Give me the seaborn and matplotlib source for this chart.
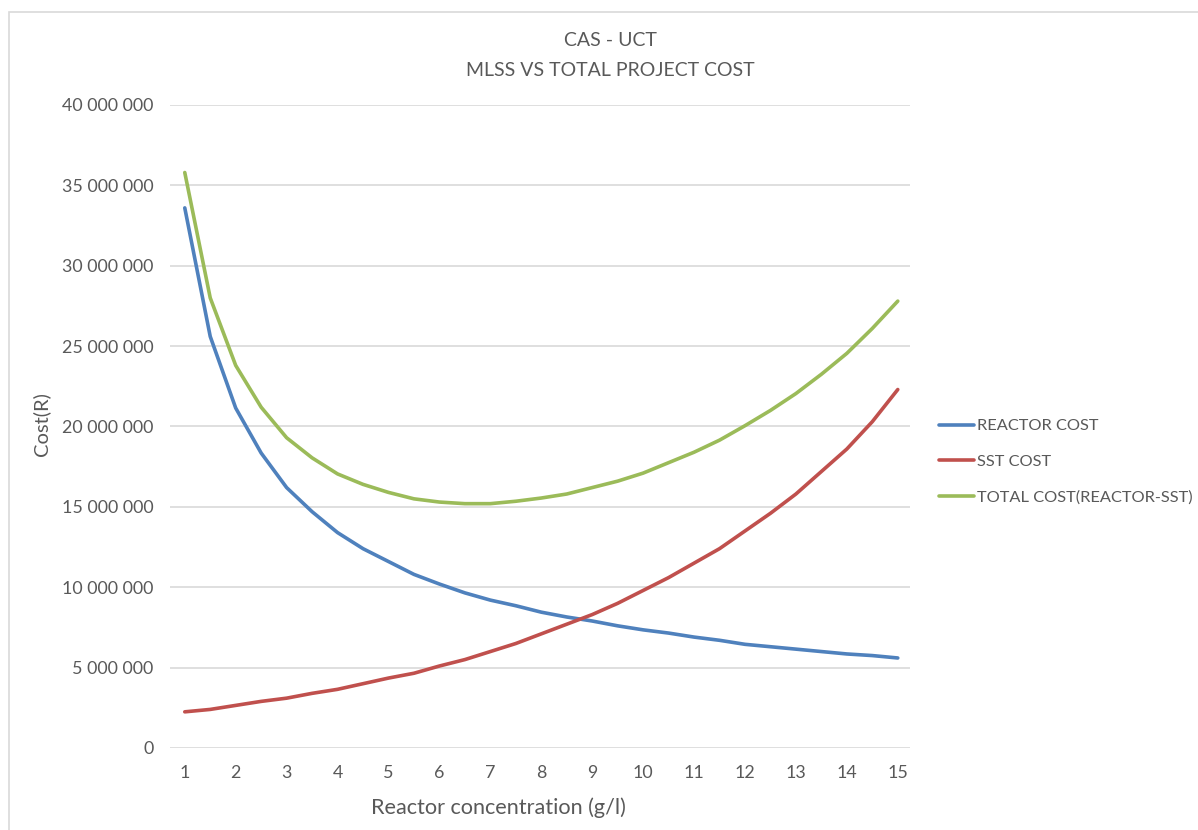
import numpy as np
import pandas as pd
import matplotlib
matplotlib.use("Agg")
import matplotlib.pyplot as plt
import seaborn as sns
from matplotlib.ticker import FuncFormatter
from matplotlib.patches import Rectangle

concentration = [1, 1.5, 2, 2.5, 3, 3.5, 4, 4.5, 5, 5.5, 6, 6.5, 7, 7.5, 8, 8.5,
                 9, 9.5, 10, 10.5, 11, 11.5, 12, 12.5, 13, 13.5, 14, 14.5, 15]
reactor_cost = [33.6, 25.6, 21.15, 18.35, 16.2, 14.7, 13.4, 12.4, 11.6, 10.8, 10.2, 9.65,
                9.2, 8.85, 8.45, 8.15, 7.9, 7.6, 7.35, 7.15, 6.9, 6.7, 6.45, 6.3, 6.15,
                6.0, 5.85, 5.75, 5.6]
sst_cost = [2.25, 2.4, 2.65, 2.9, 3.1, 3.4, 3.65, 4.0, 4.35, 4.65, 5.1, 5.5, 6.0, 6.5,
            7.1, 7.7, 8.3, 9.0, 9.8, 10.6, 11.5, 12.4, 13.5, 14.6, 15.8, 17.2, 18.6,
            20.3, 22.3]
total_cost = [35.8, 28.0, 23.8, 21.2, 19.3, 18.05, 17.05, 16.4, 15.9, 15.5, 15.3, 15.2,
              15.2, 15.35, 15.55, 15.8, 16.2, 16.6, 17.1, 17.75, 18.4, 19.15, 20.05,
              21.0, 22.05, 23.25, 24.55, 26.1, 27.8]
series_names = ["REACTOR COST", "SST COST", "TOTAL COST(REACTOR-SST)"]
y_ticks = [0, 5e6, 10e6, 15e6, 20e6, 25e6, 30e6, 35e6, 40e6]
x_ticks = list(range(1, 16))

rows = []
for name, vals in zip(series_names, [reactor_cost, sst_cost, total_cost]):
    for x, v in zip(concentration, vals):
        rows.append({"x": x, "cost": v * 1e6, "series": name})
df = pd.DataFrame(rows)

sns.set_theme(style="white")
plt.rcParams["font.family"] = ["Lato", "DejaVu Sans"]
text_color = "#595959"

fig = plt.figure(figsize=(11.98, 8.3), dpi=100)
W, H = 1198, 830
fig.patches.append(Rectangle((8.5 / W, -0.1), 1.2, 1 - 12 / H + 0.1,
                             transform=fig.transFigure, fill=False,
                             edgecolor="#D9D9D9", linewidth=1.2, zorder=0))
ax = fig.add_axes([170 / W, 1 - 748 / H, (910 - 170) / W, (748 - 105) / H])

palette = {"REACTOR COST": "#4F81BD", "SST COST": "#C0504D",
           "TOTAL COST(REACTOR-SST)": "#9BBB59"}
sns.lineplot(data=df, x="x", y="cost", hue="series", palette=palette, ax=ax,
             linewidth=2.6, legend=True, sort=False)

ax.set_xlim(0.71, 15.24)
ax.set_ylim(0, 40e6)
ax.set_yticks(y_ticks)
ax.set_xticks(x_ticks)
ax.yaxis.set_major_formatter(FuncFormatter(lambda v, p: f"{int(v):,}".replace(",", " ")))
ax.grid(axis="y", color="#D9D9D9", linewidth=1.2)
ax.grid(axis="x", visible=False)
for s in ax.spines.values():
    s.set_visible(False)
ax.tick_params(axis="both", length=0, labelsize=12.9, colors=text_color)
ax.tick_params(axis="y", pad=12)
ax.tick_params(axis="x", pad=12)
ax.set_xlabel("")
ax.set_ylabel("")

fig.text(41 / W, 1 - 424 / H, "Cost(R)", rotation=90, ha="center", va="center",
         fontsize=14.5, color=text_color)
fig.text(498 / W, 1 - 808 / H, "Reactor concentration (g/l)", ha="center", va="center",
         fontsize=15.6, color=text_color)
fig.text(610 / W, 1 - 40 / H, "CAS - UCT", ha="center", va="center",
         fontsize=14, color=text_color)
fig.text(610 / W, 1 - 71 / H, "MLSS VS TOTAL PROJECT COST", ha="center", va="center",
         fontsize=14, color=text_color)

handles, labels = ax.get_legend_handles_labels()
leg = ax.legend(handles, labels, loc="center left", bbox_to_anchor=(926 / W, 1 - 462 / H),
                bbox_transform=fig.transFigure, frameon=False, fontsize=11.8,
                handlelength=2.1, handletextpad=0.2, labelspacing=1.3, borderpad=0.3)
for t in leg.get_texts():
    t.set_color(text_color)

fig.savefig("out.png", dpi=100)
